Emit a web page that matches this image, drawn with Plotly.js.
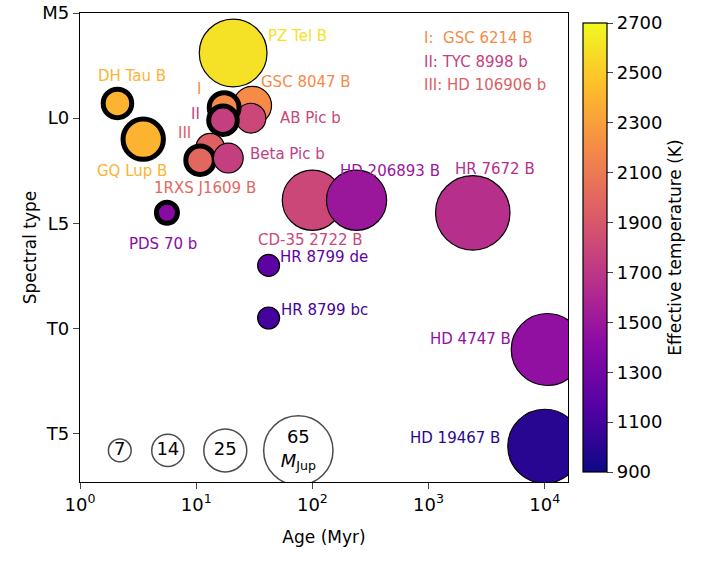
<!DOCTYPE html>
<html>
<head>
<meta charset="utf-8">
<script src="https://cdn.plot.ly/plotly-3.0.1.min.js"></script>
</head>
<body style="margin:0">
<div id="grafico" style="width:721px;height:575px"></div>
<script>
// companions: age (Myr), spectral type index (M5=5, L0=10, L5=15, T0=20, T5=25), Teff (K), mass (MJup)
const nomes  = ['PZ Tel B', 'GSC 8047 B', 'AB Pic b', 'GSC 6214 B', 'TYC 8998 b', 'HD 106906 b',
                '1RXS J1609 B', 'Beta Pic b', 'DH Tau B', 'GQ Lup B', 'PDS 70 b', 'CD-35 2722 B',
                'HD 206893 B', 'HR 7672 B', 'HR 8799 de', 'HR 8799 bc', 'HD 4747 B', 'HD 19467 B'];
const idade  = [20.8, 30.4, 29.6, 17.4, 17.0, 13.2, 10.8, 18.9, 2.1, 3.5, 5.6, 100, 240, 2400, 42, 42, 10500, 10000];
const tipo   = [6.9, 9.4, 10.0, 9.5, 10.1, 11.4, 12.0, 11.9, 9.3, 11.0, 14.5, 13.9, 13.9, 14.5, 17.0, 19.5, 21.0, 25.6];
const teff   = [2600, 2200, 1800, 2200, 1750, 1950, 2000, 1750, 2400, 2400, 1400, 1800, 1500, 1650, 1200, 1100, 1450, 1000];
const massa  = [62, 20, 12, 12, 11, 11, 11, 12, 11, 22, 6, 49, 49, 75, 6.5, 6.5, 70, 74];
const borda  = [0, 0, 0, 1, 1, 0, 1, 0, 1, 1, 1, 0, 0, 0, 0, 0, 0, 0];

// label positions (data coords)
const rotX   = [74, 88, 96, 10.6, 9.8, 8.0, 12, 61, 2.8, 2.8, 5.2, 96, 470, 3700, 127, 127, 2300, 1700];
const rotY   = [6.1, 8.3, 10.0, 8.6, 9.8, 10.7, 13.3, 11.7, 8.0, 12.5, 16.0, 15.8, 12.5, 12.4, 16.6, 19.1, 20.5, 25.2];
const rotTxt = ['PZ Tel B', 'GSC 8047 B', 'AB Pic b', 'I', 'II', 'III', '1RXS J1609 B', 'Beta Pic b',
                'DH Tau B', 'GQ Lup B', 'PDS 70 b', 'CD-35 2722 B', 'HD 206893 B', 'HR 7672 B',
                'HR 8799 de', 'HR 8799 bc', 'HD 4747 B', 'HD 19467 B'];

const legMassa = [7, 14, 25, 65];
const legIdade = [2.2, 5.7, 17.8, 75.7];

const tMin = 900, tMax = 2700;
const plasma = [[13,8,135],[84,2,163],[139,10,165],[185,50,137],[219,92,104],[244,136,73],[254,188,43],[240,249,33]];
const escala = plasma.map((c, i) => [i / (plasma.length - 1), 'rgb(' + c.join(',') + ')']);
function cor(t) {
  let f = Math.min(Math.max((t - tMin) / (tMax - tMin), 0), 1) * (plasma.length - 1);
  let i = Math.min(Math.floor(f), plasma.length - 2), u = f - i;
  let c = plasma[i].map((v, k) => Math.round(v + (plasma[i + 1][k] - v) * u));
  return 'rgb(' + c.join(',') + ')';
}
const diam = m => 8.6 * Math.sqrt(m);

var data = [
  {
    x: idade, y: tipo, mode: 'markers', type: 'scatter', hovertext: nomes,
    marker: {
      size: massa.map(diam), color: teff, colorscale: escala, cmin: tMin, cmax: tMax, opacity: 1,
      line: { color: 'black', width: borda.map(b => b ? 5 : 1.2) },
      colorbar: {
        title: { text: 'Effective temperature (K)', side: 'right', font: { size: 17 } },
        tickvals: [900, 1100, 1300, 1500, 1700, 1900, 2100, 2300, 2500, 2700],
        tickfont: { size: 18 }, thickness: 24, len: 1, y: 0.5, x: 1.03, xpad: 0,
        outlinecolor: 'black', outlinewidth: 1.2, ticks: 'outside', ticklen: 6
      }
    }
  },
  {
    x: legIdade, y: legMassa.map(() => 25.8), mode: 'markers+text', type: 'scatter',
    text: legMassa.map(m => m === 65 ? '65<br><i>M</i><sub>Jup</sub>' : String(m)),
    textposition: 'middle center', textfont: { size: 18, color: 'black' },
    marker: { size: legMassa.map(diam), color: 'white', line: { color: 'black', width: 1.5 } }
  }
];

var anots = rotTxt.map((t, i) => ({
  x: Math.log10(rotX[i]), y: rotY[i], text: t, showarrow: false,
  font: { size: 15, color: cor(teff[i]) }
}));
const chave = [['I:  GSC 6214 B', 3], ['II: TYC 8998 b', 4], ['III: HD 106906 b', 5]];
chave.forEach((c, k) => anots.push({
  xref: 'paper', yref: 'paper', x: 0.70, y: 0.97 - k * 0.05, xanchor: 'left', text: c[0],
  showarrow: false, font: { size: 15, color: cor(teff[c[1]]) }
}));

var layout = {
  width: 721, height: 575, showlegend: false,
  font: { family: 'DejaVu Sans', color: 'black' },
  margin: { l: 80, r: 153, t: 13, b: 93 },
  plot_bgcolor: 'white', paper_bgcolor: 'white',
  xaxis: {
    type: 'log', range: [0, 4.2], title: { text: 'Age (Myr)', font: { size: 17 } },
    tickvals: [1, 10, 100, 1000, 10000],
    ticktext: ['10<sup>0</sup>', '10<sup>1</sup>', '10<sup>2</sup>', '10<sup>3</sup>', '10<sup>4</sup>'],
    tickfont: { size: 18 }, ticks: 'outside', ticklen: 6, showgrid: false, zeroline: false,
    showline: true, mirror: true, linecolor: 'black', linewidth: 1.2
  },
  yaxis: {
    range: [27.3, 5], title: { text: 'Spectral type', font: { size: 17 } },
    tickvals: [5, 10, 15, 20, 25], ticktext: ['M5', 'L0', 'L5', 'T0', 'T5'],
    tickfont: { size: 18 }, ticks: 'outside', ticklen: 6, showgrid: false, zeroline: false,
    showline: true, mirror: true, linecolor: 'black', linewidth: 1.2
  },
  annotations: anots
};

Plotly.newPlot('grafico', data, layout, { displayModeBar: false });
</script>
</body>
</html>
